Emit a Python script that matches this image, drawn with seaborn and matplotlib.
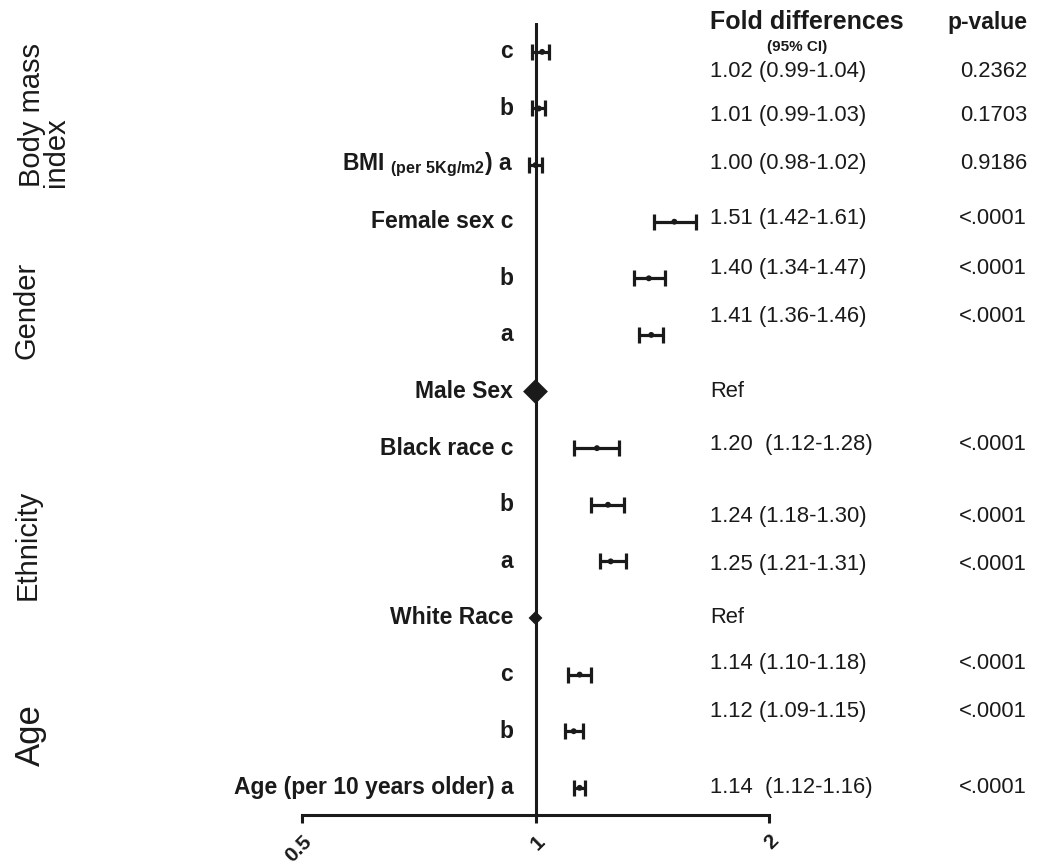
import numpy as np
import pandas as pd
import matplotlib
matplotlib.use("Agg")
import matplotlib.pyplot as plt
import matplotlib.transforms as mtransforms
import seaborn as sns

# ----------------------------------------------------------------------------
# Data
# ----------------------------------------------------------------------------
row_labels = ["c", "b", "BMI $_{\\mathbf{(per\\ 5Kg/m2}}$) a",
              "Female sex c", "b", "a", "Male Sex",
              "Black race c", "b", "a", "White Race",
              "c", "b", "Age (per 10 years older) a"]
estimate = [1.02, 1.01, 1.00, 1.51, 1.40, 1.41, np.nan,
            1.20, 1.24, 1.25, np.nan, 1.14, 1.12, 1.14]
ci_low = [0.99, 0.99, 0.98, 1.42, 1.34, 1.36, np.nan,
          1.12, 1.18, 1.21, np.nan, 1.10, 1.09, 1.12]
ci_high = [1.04, 1.03, 1.02, 1.61, 1.47, 1.46, np.nan,
           1.28, 1.30, 1.31, np.nan, 1.18, 1.15, 1.16]
fold_text = ["1.02 (0.99-1.04)", "1.01 (0.99-1.03)", "1.00 (0.98-1.02)",
             "1.51 (1.42-1.61)", "1.40 (1.34-1.47)", "1.41 (1.36-1.46)", "Ref",
             "1.20  (1.12-1.28)", "1.24 (1.18-1.30)", "1.25 (1.21-1.31)", "Ref",
             "1.14 (1.10-1.18)", "1.12 (1.09-1.15)", "1.14  (1.12-1.16)"]
p_text = ["0.2362", "0.1703", "0.9186", "<.0001", "<.0001", "<.0001", "",
          "<.0001", "<.0001", "<.0001", "", "<.0001", "<.0001", "<.0001"]
ref_rows = ["Male Sex", "White Race"]
ref_value = [1.0, 1.0]
groups = ["Body mass\nindex", "Gender", "Ethnicity", "Age"]
x_ticks = [0.5, 1, 2]
x_tick_labels = ["0.5", "1", "2"]

# layout only: vertical nudges of the right-hand text (in row units)
text_nudge = [0.34, 0.12, -0.03, -0.05, -0.17, -0.33, 0.0,
              -0.07, 0.2, 0.05, 0.0, -0.2, -0.34, 0.0]

INK = "#1a1a1a"

sns.set_theme(style="white")
plt.rcParams['font.family'] = ['Liberation Sans', 'DejaVu Sans']
plt.rcParams['mathtext.fontset'] = 'custom'
plt.rcParams['mathtext.rm'] = 'Liberation Sans'
plt.rcParams['mathtext.bf'] = 'Liberation Sans:bold'

df = pd.DataFrame({"row": np.arange(len(row_labels)), "label": row_labels,
                   "est": estimate, "lo": ci_low, "hi": ci_high})
ref_df = pd.DataFrame({"row": [row_labels.index(r) for r in ref_rows],
                       "est": ref_value, "size": ["big", "small"]})

W, H = 1041, 864
fig = plt.figure(figsize=(W / 100, H / 100), dpi=100)
ax = fig.add_axes([302 / W, 1 - 815 / H, (769 - 302) / W, (815 - 23) / H])
ax.set_xscale("log", base=2)
ax.set_xlim(0.5, 2)
ax.set_ylim(13.48, -0.51)

# reference line at 1
ax.axvline(1, color=INK, lw=2.2, zorder=1)

# confidence intervals
ok = df.dropna()
ax.errorbar(ok["est"], ok["row"], xerr=[ok["est"] - ok["lo"], ok["hi"] - ok["est"]],
            fmt="none", ecolor=INK, elinewidth=2.3, capsize=5.5, capthick=2.3, zorder=2)
sns.scatterplot(data=ok, x="est", y="row", color=INK, s=18, marker="o",
                edgecolor="none", ax=ax, zorder=3, legend=False)

# reference diamonds
sns.scatterplot(data=ref_df, x="est", y="row", size="size",
                sizes={"big": 160, "small": 50}, marker="D", color=INK,
                edgecolor="none", ax=ax, zorder=3, legend=False)

# row labels
for i, lab in enumerate(row_labels):
    ax.annotate(lab, xy=(1, i), xytext=(-16, 0), textcoords="offset points",
                ha="right", va="center", fontsize=16.5, fontweight="bold",
                color=INK, annotation_clip=False)

# right-hand columns
tr = mtransforms.blended_transform_factory(fig.transFigure, ax.transData)
for i, (ft, pt) in enumerate(zip(fold_text, p_text)):
    y = i + text_nudge[i]
    ax.text(710 / W, y, ft, transform=tr, ha="left", va="center",
            fontsize=15.8, color=INK, clip_on=False)
    if pt:
        ax.text(1027 / W, y, pt, transform=tr, ha="right", va="center",
                fontsize=15.8, color=INK, clip_on=False)

fig.text(710 / W, 1 - 22 / H, "Fold differences", ha="left", va="center",
         fontsize=18, fontweight="bold", color=INK)
fig.text(797 / W, 1 - 47 / H, "(95% CI)", ha="center", va="center",
         fontsize=11, fontweight="bold", color=INK)
fig.text(1027 / W, 1 - 22 / H, "p-value", ha="right", va="center",
         fontsize=16.5, fontweight="bold", color=INK)

# group labels on the left
group_pos = [(44, 115, 21), (27, 310, 21), (28, 545, 21), (30, 735, 25)]
for g, (gx, gy, fs) in zip(groups, group_pos):
    fig.text(gx / W, 1 - gy / H, g, rotation=90, ha="center", va="center",
             multialignment="left", fontsize=fs, color=INK, linespacing=0.85)

# axis styling
for side in ["top", "right", "left"]:
    ax.spines[side].set_visible(False)
ax.spines["bottom"].set_color(INK)
ax.spines["bottom"].set_linewidth(2.2)
ax.set_yticks([])
ax.set_xticks(x_ticks)
ax.set_xticklabels(x_tick_labels)
ax.xaxis.set_minor_locator(matplotlib.ticker.NullLocator())
ax.tick_params(axis="x", which="major", direction="out", length=6, width=2.2,
               color=INK, bottom=True, pad=6)
for t in ax.get_xticklabels():
    t.set_rotation(45)
    t.set_ha("right")
    t.set_va("top")
    t.set_rotation_mode("anchor")
    t.set_fontsize(15)
    t.set_fontweight("bold")
    t.set_color(INK)
ax.set_xlabel("")
ax.set_ylabel("")
ax.grid(False)

fig.savefig("out.png", dpi=100)
